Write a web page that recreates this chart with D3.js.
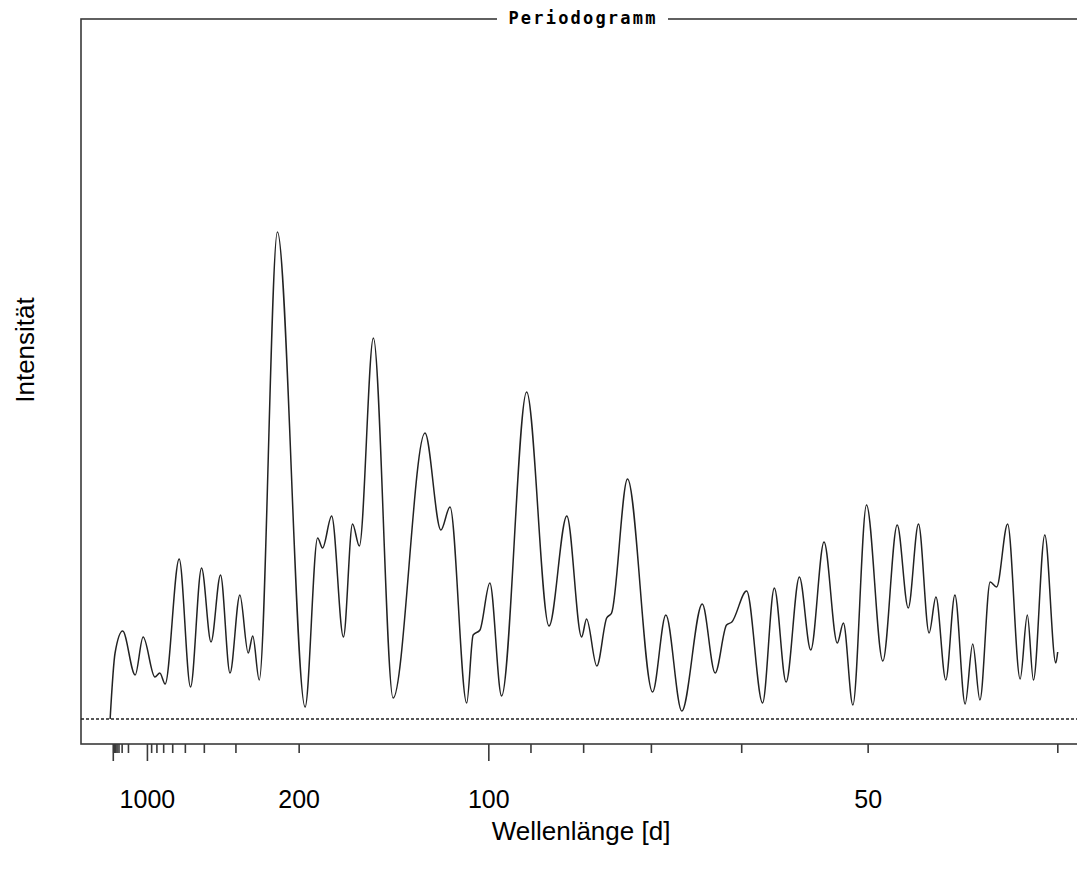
<!DOCTYPE html>
<html>
<head>
<meta charset="utf-8">
<script src="https://cdn.jsdelivr.net/npm/d3@7"></script>
<style>
  body { margin: 0; background: #fff; }
  svg { display: block; }
</style>
</head>
<body>
<div id="chart"></div>
<script>
// Periodogramm - Intensität über Frequenz, beschriftet als Wellenlänge [d]

// frequency in 1/1000 d (so 10 -> 100 d wavelength)
const freq = [
  0.03, 0.16, 0.36, 0.69, 0.90, 1.21, 1.34, 1.48, 1.85, 2.15,
  2.44, 2.69, 2.94, 3.19, 3.45, 3.67, 3.79, 3.96, 4.44, 5.17,
  5.50, 5.63, 5.87, 6.18, 6.42, 6.60, 6.97, 7.49, 8.33, 8.75,
  8.99, 9.43, 9.60, 9.78, 10.04, 10.35, 11.01, 11.60, 12.07, 12.46,
  12.59, 12.86, 13.12, 13.25, 13.67, 14.33, 14.68, 15.10, 15.64, 15.98,
  16.28, 16.42, 16.81, 17.23, 17.54, 17.85, 18.20, 18.50, 18.85, 19.20,
  19.36, 19.61, 19.97, 20.40, 20.78, 21.07, 21.34, 21.62, 21.80, 22.06,
  22.30, 22.57, 22.77, 22.96, 23.23, 23.40, 23.69, 24.02, 24.21, 24.37,
  24.67, 24.96, 25.01
];
// intensity, arbitrary units (0 = dashed line)
const intensity = [
  0.0, 6.6, 8.8, 4.4, 8.2, 4.2, 4.6, 3.5, 16.0, 3.2,
  15.1, 7.7, 14.4, 4.6, 12.4, 6.6, 8.3, 3.9, 48.7, 1.2,
  18.1, 17.1, 20.3, 8.2, 19.5, 17.3, 38.1, 2.1, 28.6, 18.9,
  21.2, 1.6, 8.4, 8.9, 13.6, 2.3, 32.7, 9.3, 20.3, 8.2,
  10.0, 5.3, 10.1, 10.6, 24.0, 2.7, 10.4, 0.8, 11.5, 4.6,
  9.4, 9.7, 12.8, 1.6, 13.1, 3.7, 14.2, 6.9, 17.7, 7.6,
  9.6, 1.4, 21.4, 5.8, 19.4, 11.1, 19.5, 8.6, 12.2, 3.9,
  12.4, 1.5, 7.5, 1.9, 13.7, 13.2, 19.5, 4.0, 10.4, 3.9,
  18.4, 5.6, 6.7
];

// wavelength ticks [d]
const majorPeriods = [10000, 1000, 100];
const minorPeriods = [9000, 8000, 7000, 6000, 5000, 4000, 3000, 2000,
                      900, 800, 700, 600, 500, 400, 300, 200,
                      90, 80, 70, 60, 50, 40];
const labelPeriods = [1000, 200, 100, 50];

const width = 1077, height = 871;
const box = { left: 81, top: 19, bottom: 744, right: 1100 };
const font = "Liberation Sans, Arial, sans-serif";

const svg = d3.select("#chart").append("svg")
  .attr("width", width)
  .attr("height", height);

const x = d3.scaleLinear()
  .domain([-0.738, 25.519])
  .range([box.left, width]);

const y = d3.scaleLinear()
  .domain([-2.5, 69.9])
  .range([box.bottom, 20]);

const toFreq = p => 1000 / p;

// frame
svg.append("rect")
  .attr("x", box.left)
  .attr("y", box.top)
  .attr("width", box.right - box.left)
  .attr("height", box.bottom - box.top)
  .attr("fill", "none")
  .attr("stroke", "#3a3a3a")
  .attr("stroke-width", 1.6);

// zero line
svg.append("line")
  .attr("x1", box.left)
  .attr("x2", width)
  .attr("y1", y(0))
  .attr("y2", y(0))
  .attr("stroke", "#222")
  .attr("stroke-width", 1.4)
  .attr("stroke-dasharray", "3,2");

// curve
const pts = freq.map((f, i) => [f, intensity[i]]);
const line = d3.line()
  .x(d => x(d[0]))
  .y(d => y(d[1]))
  .curve(d3.curveMonotoneX);

svg.append("path")
  .datum(pts)
  .attr("d", line)
  .attr("fill", "none")
  .attr("stroke", "#222")
  .attr("stroke-width", 1.5);

// axis ticks
function tickAxis(periods, size) {
  const g = svg.append("g")
    .attr("transform", `translate(0,${box.bottom})`)
    .call(d3.axisBottom(x)
      .tickValues(periods.map(toFreq))
      .tickSize(size)
      .tickFormat(""));
  g.select(".domain").remove();
  g.selectAll("line").attr("stroke", "#3a3a3a").attr("stroke-width", 1.6);
  return g;
}
tickAxis(minorPeriods, 9);
tickAxis(majorPeriods, 17);

// labels
const lab = svg.append("g")
  .attr("transform", `translate(0,${box.bottom})`)
  .call(d3.axisBottom(x)
    .tickValues(labelPeriods.map(toFreq))
    .tickSize(0)
    .tickPadding(46)
    .tickFormat(f => Math.round(1000 / f)));
lab.select(".domain").remove();
lab.selectAll("text")
  .attr("font-family", font)
  .attr("font-size", "25px")
  .attr("fill", "#000");

// x title
svg.append("text")
  .attr("x", 581)
  .attr("y", 840)
  .attr("text-anchor", "middle")
  .attr("font-family", font)
  .attr("font-size", "26px")
  .text("Wellenlänge [d]");

// y title
svg.append("text")
  .attr("transform", "translate(34,350) rotate(-90)")
  .attr("text-anchor", "middle")
  .attr("font-family", font)
  .attr("font-size", "26px")
  .text("Intensität");

// chart title breaking the top frame line
svg.append("rect")
  .attr("x", 497)
  .attr("y", 10)
  .attr("width", 171)
  .attr("height", 18)
  .attr("fill", "#fff");

svg.append("text")
  .attr("x", 583)
  .attr("y", 24)
  .attr("text-anchor", "middle")
  .attr("font-family", "DejaVu Sans Mono, monospace")
  .attr("font-weight", "bold")
  .attr("font-size", "17px")
  .attr("letter-spacing", "2.2px")
  .text("Periodogramm");
</script>
</body>
</html>
